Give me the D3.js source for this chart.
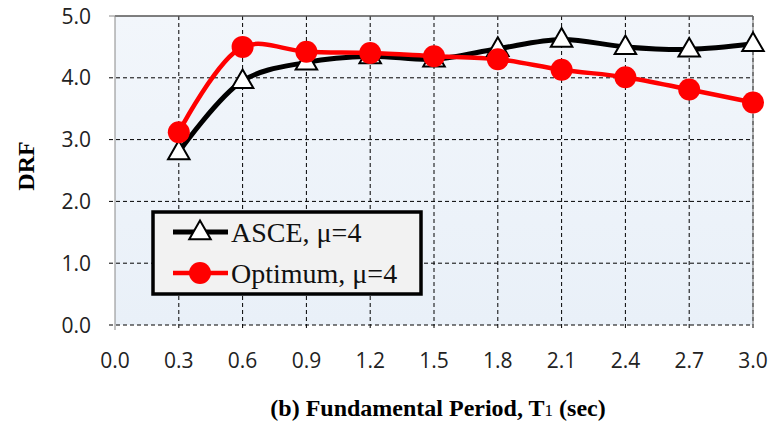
<!DOCTYPE html>
<html><head><meta charset="utf-8">
<script src="https://cdn.jsdelivr.net/npm/d3@7"></script>
<style>body{margin:0;background:#fff}svg{display:block}</style>
</head><body>
<script>
const periods = [0.3, 0.6, 0.9, 1.2, 1.5, 1.8, 2.1, 2.4, 2.7, 3.0];
const asceValues = [2.80, 3.95, 4.25, 4.35, 4.30, 4.47, 4.62, 4.50, 4.46, 4.55];
const optimumValues = [3.12, 4.50, 4.42, 4.40, 4.35, 4.30, 4.13, 4.01, 3.81, 3.60];
const xTicks = [0.0, 0.3, 0.6, 0.9, 1.2, 1.5, 1.8, 2.1, 2.4, 2.7, 3.0];
const yTicks = [0.0, 1.0, 2.0, 3.0, 4.0, 5.0];
const seriesNames = ["ASCE, \u03bc=4", "Optimum, \u03bc=4"];

const W = 772, H = 421;
const L = 115, R = 753, T = 16, B = 325;
const svg = d3.select("body").append("svg").attr("width", W).attr("height", H);

const x = d3.scaleLinear().domain([0, 3]).range([L, R]);
const y = d3.scaleLinear().domain([0, 5]).range([B, T]);

const grad = svg.append("defs").append("linearGradient").attr("id","bg").attr("x1",0).attr("y1",0).attr("x2",0).attr("y2",1);
grad.append("stop").attr("offset","0%").attr("stop-color","#f2f6fb");
grad.append("stop").attr("offset","100%").attr("stop-color","#e9f0f8");
svg.append("rect").attr("x",L).attr("y",T).attr("width",R-L).attr("height",B-T).attr("fill","url(#bg)");

// grid
svg.append("g").selectAll("line").data(xTicks.slice(1)).join("line")
  .attr("x1", d=>x(d)).attr("x2", d=>x(d)).attr("y1", T).attr("y2", B+5)
  .attr("stroke","#000").attr("stroke-width",1).attr("stroke-dasharray","4,3");
svg.append("g").selectAll("line").data(yTicks.slice(0,-1)).join("line")
  .attr("x1", L-6).attr("x2", R).attr("y1", d=>y(d)).attr("y2", d=>y(d))
  .attr("stroke","#000").attr("stroke-width",1).attr("stroke-dasharray","4,3");

// borders
svg.append("line").attr("x1",L).attr("x2",R).attr("y1",T).attr("y2",T).attr("stroke","#555").attr("stroke-width",1.5);
svg.append("line").attr("x1",R).attr("x2",R).attr("y1",T).attr("y2",B).attr("stroke","#777").attr("stroke-width",1);
svg.append("line").attr("x1",L).attr("x2",L).attr("y1",T).attr("y2",B+5).attr("stroke","#888").attr("stroke-width",1);
svg.append("line").attr("x1",L-6).attr("x2",L).attr("y1",T).attr("y2",T).attr("stroke","#888").attr("stroke-width",1);

// axes labels
const tickFont = "'Open Sans', 'DejaVu Sans', sans-serif";
svg.append("g").selectAll("text").data(yTicks).join("text")
  .attr("x", 91).attr("y", d=>y(d)).attr("dy","0.36em").attr("text-anchor","end")
  .attr("font-family", tickFont).attr("font-size",21).attr("fill","#222")
  .text(d=>d3.format(".1f")(d));
svg.append("g").selectAll("text").data(xTicks).join("text")
  .attr("x", d=>x(d)).attr("y", 360).attr("dy","0.36em").attr("text-anchor","middle")
  .attr("font-family", tickFont).attr("font-size",21).attr("fill","#222")
  .text(d=>d3.format(".1f")(d));

const serif = "'Liberation Serif', 'Times New Roman', serif";
svg.append("text").attr("transform","translate(34,166) rotate(-90)").attr("text-anchor","middle")
  .attr("font-family",serif).attr("font-weight","bold").attr("font-size",24)
  .text("DRF");
const xt = svg.append("text").attr("x",438).attr("y",416).attr("text-anchor","middle")
  .attr("font-family",serif).attr("font-weight","bold").attr("font-size",24);
xt.append("tspan").text("(b) Fundamental Period, T");
xt.append("tspan").attr("font-size",17).attr("font-weight","normal").text("1");
xt.append("tspan").text(" (sec)");

const line = d3.line().x((d,i)=>x(periods[i])).y(d=>y(d)).curve(d3.curveCatmullRom.alpha(0.5));
const tri = d3.symbol().type(d3.symbolTriangle).size(200);

svg.append("path").attr("d", line(asceValues)).attr("fill","none").attr("stroke","#000").attr("stroke-width",5);
svg.append("path").attr("d", line(optimumValues)).attr("fill","none").attr("stroke","#ff0000").attr("stroke-width",4.5);
svg.append("g").selectAll("path").data(asceValues).join("path")
  .attr("d", tri).attr("transform",(d,i)=>`translate(${x(periods[i])},${y(d)+1})`)
  .attr("fill","#fff").attr("stroke","#000").attr("stroke-width",2);
svg.append("g").selectAll("circle").data(optimumValues).join("circle")
  .attr("cx",(d,i)=>x(periods[i])).attr("cy",d=>y(d)).attr("r",11).attr("fill","#ff0000");

// legend
const lg = svg.append("g");
lg.append("rect").attr("x",153).attr("y",212).attr("width",268).attr("height",82)
  .attr("fill","#f2f2f2").attr("stroke","#000").attr("stroke-width",3.5);
const rows = [232, 273];
lg.append("line").attr("x1",173).attr("x2",228).attr("y1",rows[0]).attr("y2",rows[0]).attr("stroke","#000").attr("stroke-width",5);
lg.append("path").attr("d",tri).attr("transform",`translate(200,${rows[0]+1})`).attr("fill","#fff").attr("stroke","#000").attr("stroke-width",2);
lg.append("line").attr("x1",173).attr("x2",228).attr("y1",rows[1]).attr("y2",rows[1]).attr("stroke","#ff0000").attr("stroke-width",4.5);
lg.append("circle").attr("cx",200).attr("cy",rows[1]).attr("r",11).attr("fill","#ff0000");
lg.selectAll("text").data(seriesNames).join("text")
  .attr("x",231).attr("y",(d,i)=>rows[i]).attr("dy","0.35em")
  .attr("font-family",serif).attr("font-size",28).attr("fill","#111")
  .text(d=>d);
</script>
</body></html>
